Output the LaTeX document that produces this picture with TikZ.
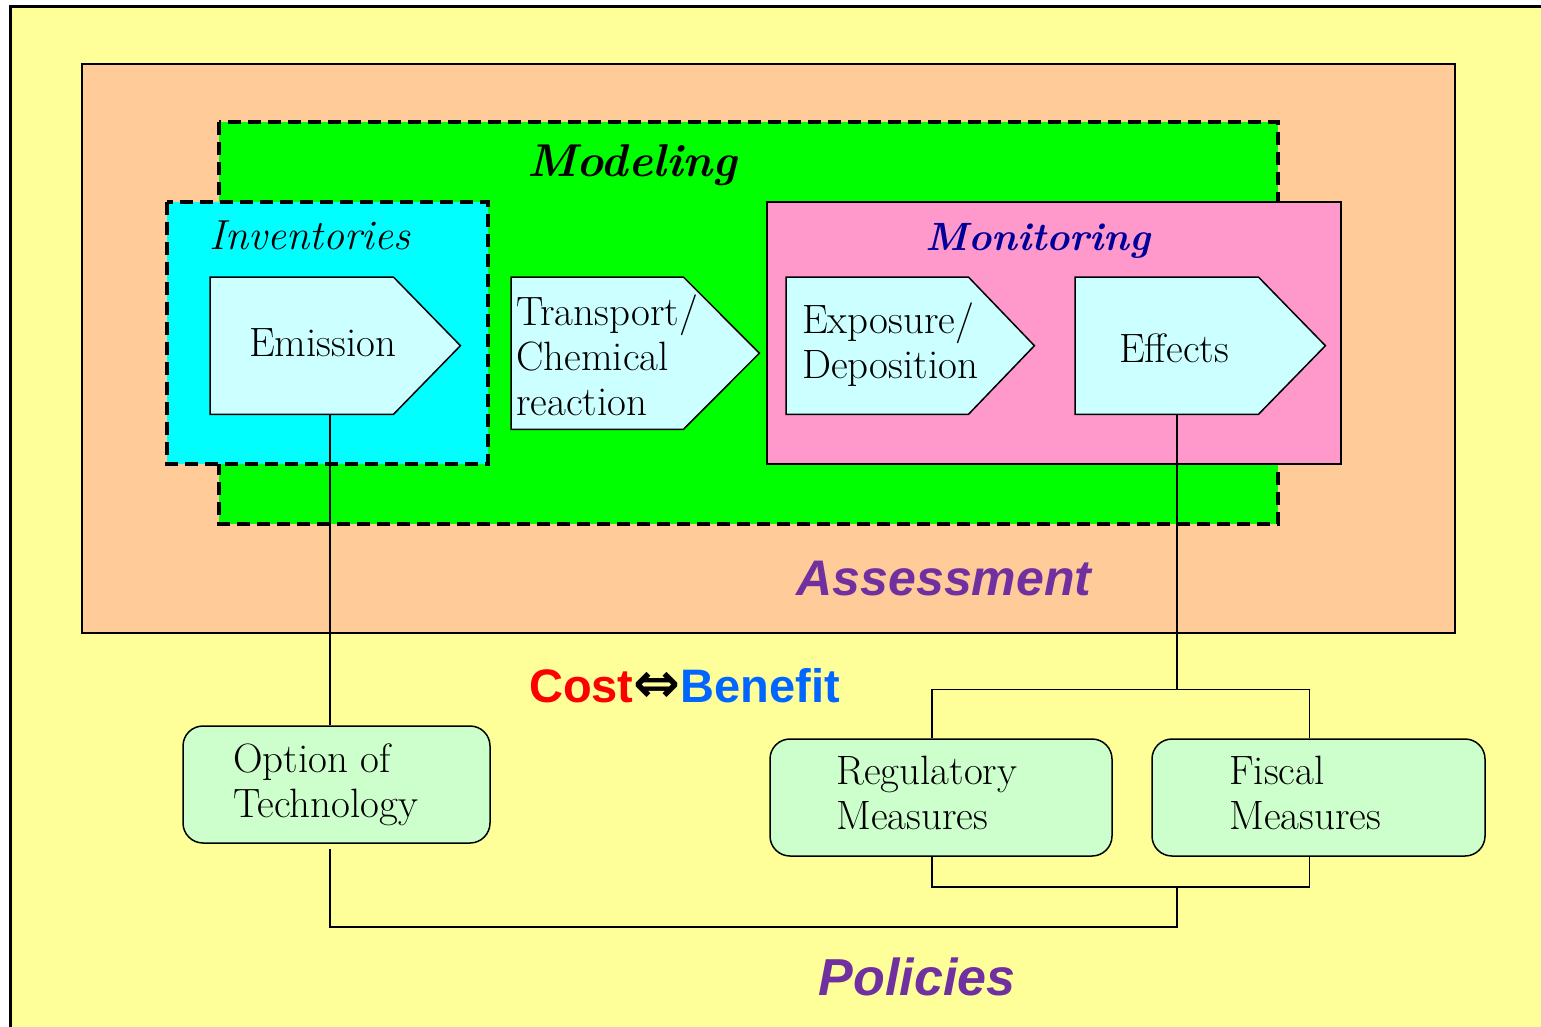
\documentclass[tikz,border=0pt]{standalone}
\usepackage{fontspec}
\usepackage{tikz}
\newfontfamily\arialfont{Liberation Sans}
\newfontfamily\symfont{DejaVu Sans}

\definecolor{bgyellow}{HTML}{FFFF99}
\definecolor{peach}{HTML}{FFCC99}
\definecolor{modgreen}{HTML}{00FF00}
\definecolor{invcyan}{HTML}{00FFFF}
\definecolor{monpink}{HTML}{FF99CC}
\definecolor{stepcyan}{HTML}{CCFFFF}
\definecolor{optgreen}{HTML}{CCFFCC}
\definecolor{titlepurple}{HTML}{7030A0}
\definecolor{mondarkblue}{HTML}{000099}
\definecolor{costred}{HTML}{FF0000}
\definecolor{benefitblue}{HTML}{0066FF}

\tikzset{
  dashbox/.style={draw, line width=3.5pt, dash pattern=on 13pt off 7pt},
  plainbox/.style={draw, line width=2pt},
  body/.style={rectangle, inner sep=0pt},
  chev/.style={draw, line width=1.5pt, fill=stepcyan, line join=miter},
  steptext/.style={font=\fontsize{41}{45}\selectfont, align=left, inner sep=0pt},
  measure/.style={rectangle, rounded corners=20pt, draw, line width=1.5pt, fill=optgreen},
  wire/.style={line width=1.5pt},
  boxtitle/.style={anchor=base, inner sep=0pt, font=\fontsize{42}{48}\selectfont\bfseries\itshape},
  bigtitle/.style={anchor=base, inner sep=0pt, text=titlepurple, font=\arialfont\bfseries\itshape\fontsize{50}{56}\selectfont},
}

\begin{document}
\begin{tikzpicture}[x=1pt,y=-1pt]
\useasboundingbox (0,0) rectangle (1541,1027);
\clip (0,0) rectangle (1541,1027);

\draw[line width=3pt, fill=bgyellow] (10,7) rectangle (1580,1060);
\draw[plainbox, fill=peach] (82,64) rectangle (1455,633);
\draw[dashbox, fill=modgreen] (219,122) rectangle (1278,524);
\draw[dashbox, fill=invcyan] (167,202) rectangle (488,464);
\draw[plainbox, fill=monpink] (767,202) rectangle (1341,464);

\node (modeling) at (632,177) [boxtitle, font=\fontsize{46}{52}\selectfont\bfseries\itshape] {Modeling};
\node (inventories) at (310,249) [boxtitle, font=\fontsize{42}{48}\selectfont\itshape] {Inventories};
\node (monitoring) at (1038,250) [boxtitle, text=mondarkblue, font=\fontsize{39.5}{46}\selectfont\bfseries\itshape] {Monitoring};
\node (assessment) at (944,595) [bigtitle] {Assessment};
\node (policies) at (917,995) [bigtitle, font=\arialfont\bfseries\itshape\fontsize{52}{58}\selectfont] {Policies};

\node (emis) at (210,277) [body, minimum width=183, minimum height=137, anchor=north west] {};
\draw[chev] (emis.north west) -- (emis.north east) -- ([xshift=67]emis.east) -- (emis.south east) -- (emis.south west) -- cycle;
\node (emislbl) at (249,356) [steptext, anchor=base west] {Emission};

\node (trans) at (511,277) [body, minimum width=172, minimum height=152, anchor=north west] {};
\draw[chev] (trans.north west) -- (trans.north east) -- ([xshift=76]trans.east) -- (trans.south east) -- (trans.south west) -- cycle;
\node (translbl) at (516,355) [steptext, anchor=west] {Transport/\\Chemical\\reaction};

\node (expo) at (786,277) [body, minimum width=182, minimum height=137, anchor=north west] {};
\draw[chev] (expo.north west) -- (expo.north east) -- ([xshift=66]expo.east) -- (expo.south east) -- (expo.south west) -- cycle;
\node (expolbl) at (802,345) [steptext, anchor=west] {Exposure/\\Deposition};

\node (eff) at (1075,277) [body, minimum width=183, minimum height=137, anchor=north west] {};
\draw[chev] (eff.north west) -- (eff.north east) -- ([xshift=67]eff.east) -- (eff.south east) -- (eff.south west) -- cycle;
\node (efflbl) at (1119,362) [steptext, anchor=base west] {Effects};

\node (costbenefit) at (684.5,702) [anchor=base, inner sep=0pt, font=\arialfont\bfseries\fontsize{47}{50}\selectfont]
  {\textcolor{costred}{Cost}{\symfont\bfseries\fontsize{56}{56}\selectfont ⇔}\textcolor{benefitblue}{Benefit}};

\node (opt) at (336.5,784.5) [measure, minimum width=307, minimum height=117] {};
\node (optlbl) at (233,785) [steptext, anchor=west] {Option of\\Technology};
\node (reg) at (941,797.5) [measure, minimum width=342, minimum height=117] {};
\node (reglbl) at (836,792.5) [steptext, anchor=west] {Regulatory\\Measures};
\node (fis) at (1318.5,797.5) [measure, minimum width=333, minimum height=117] {};
\node (fislbl) at (1229,792.5) [steptext, anchor=west] {Fiscal\\Measures};

\coordinate (e1) at ([xshift=120]emis.south west);
\coordinate (f1) at ([xshift=102]eff.south west);
\coordinate (rt) at ([xshift=-9]reg.north);
\coordinate (ft) at ([xshift=-9]fis.north);
\coordinate (rb) at ([xshift=-9]reg.south);
\coordinate (fb) at ([xshift=-9]fis.south);
\coordinate (ob) at ([shift={(-6.5,5)}]opt.south);

\draw[wire] (e1) -- (e1 |- opt.north);
\draw[wire] (rt) -- ++(0,-49) coordinate (topbar) -| (ft);
\draw[wire] (f1) -- (f1 |- topbar);
\draw[wire] (rb) -- ++(0,30) coordinate (lowbar) -| (fb);
\draw[wire] (f1 |- lowbar) -- ++(0,40) -| (ob);
\end{tikzpicture}
\end{document}
